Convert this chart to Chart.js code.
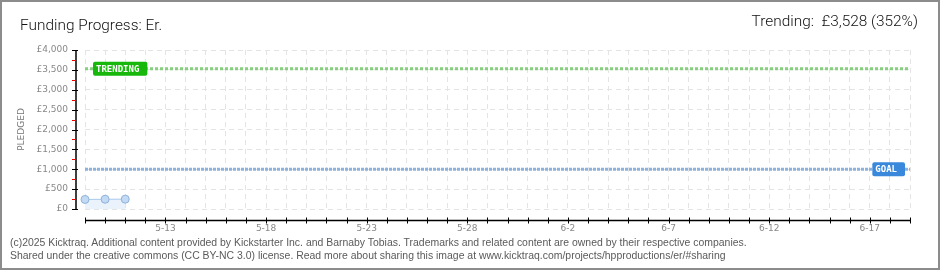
<!DOCTYPE html>
<html>
<head>
<meta charset="utf-8">
<script src="https://cdn.jsdelivr.net/npm/chart.js@4.4.0/dist/chart.umd.min.js"></script>
<style>
  html, body { margin: 0; padding: 0; background: #fff; }
  body { position: relative; width: 940px; height: 270px; overflow: hidden; }
  #chart { position: absolute; left: 0; top: 0; }
  #frame { position: absolute; left: 0; top: 0; width: 940px; height: 270px; box-sizing: border-box; border: 2px solid #8c8c8c; pointer-events: none; }
  .title { position: absolute; left: 20px; top: 16px; font: 300 15.4px Roboto, sans-serif; color: #111; }
  .trend { position: absolute; right: 22px; top: 12px; font: 300 15.4px Roboto, sans-serif; color: #111; }
  .foot { position: absolute; left: 10px; font: 10.45px "Liberation Sans", sans-serif; color: #5a5a5a; white-space: nowrap; }
</style>
</head>
<body>
<canvas id="chart" width="940" height="270"></canvas>
<div class="title">Funding Progress: Er.</div>
<div class="trend">Trending:&nbsp; £3,528 (352%)</div>
<div class="foot" style="top:237px">(c)2025 Kicktraq. Additional content provided by Kickstarter Inc. and Barnaby Tobias. Trademarks and related content are owned by their respective companies.</div>
<div class="foot" style="top:250px">Shared under the creative commons (CC BY-NC 3.0) license. Read more about sharing this image at www.kicktraq.com/projects/hpproductions/er/#sharing</div>
<div id="frame"></div>
<script>
const dayLabels = [
  '5-9', '5-10', '5-11', '5-12', '5-13', '5-14', '5-15', '5-16', '5-17', '5-18',
  '5-19', '5-20', '5-21', '5-22', '5-23', '5-24', '5-25', '5-26', '5-27', '5-28',
  '5-29', '5-30', '5-31', '6-1', '6-2', '6-3', '6-4', '6-5', '6-6', '6-7',
  '6-8', '6-9', '6-10', '6-11', '6-12', '6-13', '6-14', '6-15', '6-16', '6-17',
  '6-18', '6-19'
];
const pledged = [240, 245, 248];
const goalAmount = 1000;
const trendingAmount = 3528;
const yMax = 4000;
const yStep = 500;

const tickFont = {family: 'DejaVu Sans', size: 9};

// axes sit a little away from the plot, drawn from the scales
const offsetAxes = {
    id: 'offsetAxes',
    afterDraw(chart) {
        const {ctx, chartArea, scales: {x, y}} = chart;
        const ax = chartArea.left - 9;
        const ay = chartArea.bottom + 11.5;
        ctx.save();
        ctx.strokeStyle = '#000';
        ctx.lineWidth = 1.5;
        ctx.beginPath();
        ctx.moveTo(ax, y.getPixelForValue(0));
        ctx.lineTo(ax, y.getPixelForValue(yMax));
        ctx.moveTo(x.getPixelForValue(0), ay);
        ctx.lineTo(x.getPixelForValue(dayLabels.length - 1), ay);
        ctx.stroke();

        ctx.lineWidth = 1;
        y.ticks.forEach(t => {
            const py = Math.round(y.getPixelForValue(t.value)) + 0.5;
            ctx.strokeStyle = '#000';
            ctx.beginPath();
            ctx.moveTo(ax - 4, py);
            ctx.lineTo(ax + 2, py);
            ctx.stroke();
            if (t.value + yStep / 2 < yMax) {
                const my = Math.round(y.getPixelForValue(t.value + yStep / 2)) + 0.5;
                ctx.strokeStyle = '#e00';
                ctx.beginPath();
                ctx.moveTo(ax - 4, my);
                ctx.lineTo(ax, my);
                ctx.stroke();
            }
        });
        ctx.strokeStyle = '#000';
        dayLabels.forEach((d, i) => {
            const px = Math.round(x.getPixelForValue(i)) + 0.5;
            ctx.beginPath();
            ctx.moveTo(px, ay - 3);
            ctx.lineTo(px, ay + 3);
            ctx.stroke();
        });
        ctx.restore();
    }
};

const drawTag = (ctx, text, px, py, color, side) => {
    ctx.font = 'bold 9px "DejaVu Sans Mono"';
    const w = ctx.measureText(text).width + 11;
    const h = 14;
    const left = side === 'left' ? px : px - w;
    ctx.fillStyle = color;
    ctx.beginPath();
    ctx.roundRect(left, py - h / 2, w, h, 2);
    ctx.fill();
    ctx.fillStyle = '#fff';
    ctx.textBaseline = 'middle';
    ctx.textAlign = 'left';
    ctx.fillText(text, left + 3, py + 0.5);
};

const markerTags = {
    id: 'markerTags',
    afterDatasetsDraw(chart) {
        const {ctx, scales: {x, y}} = chart;
        ctx.save();
        drawTag(ctx, 'TRENDING', x.getPixelForValue(0) + 8, y.getPixelForValue(trendingAmount), '#17b70c', 'left');
        drawTag(ctx, 'GOAL', x.getPixelForValue(dayLabels.length - 1) - 5, y.getPixelForValue(goalAmount), '#3a88dc', 'right');
        ctx.restore();
    }
};

new Chart(document.getElementById('chart'), {
    type: 'line',
    data: {
        labels: dayLabels,
        datasets: [
            {
                label: 'Pledged',
                data: pledged,
                borderColor: '#a9c8ec',
                borderWidth: 1,
                backgroundColor: '#eaf2fc',
                fill: 'origin',
                pointRadius: 4,
                pointBackgroundColor: '#c3daf5',
                pointBorderColor: '#8fb2d9',
                pointBorderWidth: 1,
                tension: 0,
            },
            {
                label: 'Trending',
                data: dayLabels.map(() => trendingAmount),
                borderColor: '#86cf7e',
                borderWidth: 3,
                borderDash: [3, 2],
                pointRadius: 0,
                fill: false,
            },
            {
                label: 'Goal',
                data: dayLabels.map(() => goalAmount),
                borderColor: '#8cb3e0',
                borderWidth: 3,
                borderDash: [3, 1],
                pointRadius: 0,
                fill: false,
            },
        ],
    },
    options: {
        responsive: false,
        animation: false,
        layout: {padding: {left: 0, top: 50, right: 30, bottom: 0}},
        plugins: {
            legend: {display: false},
            tooltip: {enabled: false},
        },
        scales: {
            x: {
                offset: false,
                afterFit: scale => { scale.height = 61; },
                grid: {color: '#e4e4e4', drawTicks: false},
                border: {display: false, dash: [5, 4]},
                ticks: {
                    autoSkip: false,
                    maxRotation: 0,
                    padding: 14,
                    color: '#888',
                    font: tickFont,
                    callback: (val, i) => ((i - 4) % 5 === 0 ? dayLabels[i] : ''),
                },
            },
            y: {
                min: 0,
                max: yMax,
                afterFit: scale => { scale.width = 85; },
                grid: {color: '#e4e4e4', drawTicks: false},
                border: {display: false, dash: [5, 4]},
                title: {
                    display: true,
                    text: 'PLEDGED',
                    color: '#777',
                    font: {family: 'DejaVu Sans', size: 9},
                    padding: {top: 16, bottom: 0},
                },
                ticks: {
                    stepSize: yStep,
                    padding: 17,
                    color: '#888',
                    font: tickFont,
                    callback: v => '£' + v.toLocaleString('en-GB'),
                },
            },
        },
    },
    plugins: [offsetAxes, markerTags],
});
</script>
</body>
</html>
